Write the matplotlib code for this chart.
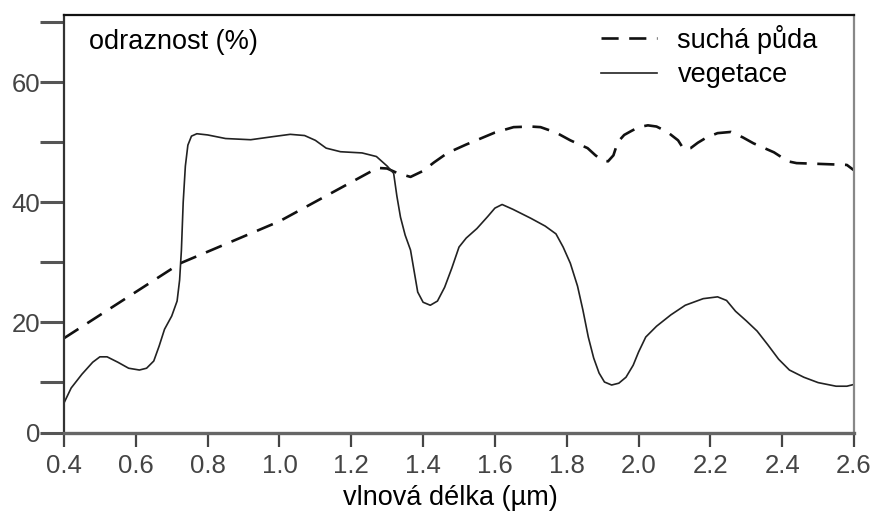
import matplotlib
matplotlib.use("Agg")
import matplotlib.pyplot as plt

# vegetace (solid curve)
veg_x = [0.40, 0.42, 0.45, 0.48, 0.50, 0.52, 0.55, 0.58, 0.61, 0.63, 0.65, 0.665,
         0.68, 0.70, 0.715, 0.722, 0.727, 0.732, 0.738, 0.745, 0.755, 0.77, 0.80,
         0.85, 0.92, 0.98, 1.03, 1.07, 1.10, 1.13, 1.17, 1.23, 1.27, 1.30, 1.318,
         1.327, 1.337, 1.35, 1.365, 1.375, 1.385, 1.40, 1.42, 1.44, 1.46, 1.48,
         1.50, 1.52, 1.55, 1.58, 1.60, 1.62, 1.65, 1.70, 1.74, 1.77, 1.79, 1.81,
         1.83, 1.845, 1.86, 1.875, 1.89, 1.905, 1.925, 1.945, 1.965, 1.985, 2.00,
         2.02, 2.05, 2.09, 2.13, 2.18, 2.22, 2.245, 2.27, 2.30, 2.33, 2.36, 2.39,
         2.42, 2.46, 2.50, 2.55, 2.58, 2.60]
veg_y = [6.5, 9.0, 11.3, 13.3, 14.2, 14.2, 13.3, 12.3, 12.0, 12.3, 13.5, 16.0,
         18.8, 21.0, 23.5, 27.0, 32.0, 40.0, 46.0, 49.5, 51.0, 51.4, 51.2,
         50.6, 50.4, 50.9, 51.3, 51.1, 50.3, 49.0, 48.4, 48.2, 47.6, 46.0, 44.8,
         41.0, 37.5, 34.5, 32.0, 28.5, 25.0, 23.3, 22.8, 23.5, 25.8, 29.0,
         32.5, 34.0, 35.6, 37.6, 39.0, 39.6, 38.8, 37.3, 36.0, 34.7, 32.5, 29.8,
         26.0, 22.0, 17.5, 14.0, 11.5, 10.0, 9.5, 9.8, 10.8, 12.8, 15.0,
         17.5, 19.3, 21.2, 22.8, 23.9, 24.2, 23.6, 21.8, 20.2, 18.5, 16.2, 13.8,
         12.0, 10.8, 9.9, 9.3, 9.3, 9.6]

# sucha puda (dashed curve)
soil_x = [0.40, 0.724, 1.00, 1.273, 1.30, 1.33, 1.365, 1.40, 1.43, 1.468, 1.52,
          1.56, 1.60, 1.652, 1.70, 1.727, 1.77, 1.81, 1.858, 1.88, 1.90, 1.915,
          1.93, 1.942, 1.96, 1.978, 2.00, 2.026, 2.05, 2.08, 2.11, 2.126, 2.145,
          2.165, 2.19, 2.22, 2.257, 2.29, 2.32, 2.377, 2.416, 2.44, 2.49, 2.58, 2.60]
soil_y = [17.3, 29.8, 36.8, 45.7, 45.6, 44.8, 44.2, 45.2, 46.6, 48.2, 49.6,
          50.6, 51.6, 52.5, 52.6, 52.5, 51.6, 50.3, 49.0, 47.8, 46.9, 46.8,
          47.8, 50.0, 51.2, 51.8, 52.5, 52.8, 52.6, 51.7, 50.3, 48.8, 49.0,
          49.9, 50.8, 51.5, 51.7, 50.8, 49.8, 48.3, 46.8, 46.5, 46.4, 46.2, 45.3]

x_ticks = [0.4, 0.6, 0.8, 1.0, 1.2, 1.4, 1.6, 1.8, 2.0, 2.2, 2.4, 2.6]
x_labels = ["0.4", "0.6", "0.8", "1.0", "1.2", "1.4", "1.6", "1.8", "2.0", "2.2", "2.4", "2.6"]
y_ticks = [1.5, 10, 20, 30, 40, 50, 60, 70]
y_labels = ["0", "", "20", "", "40", "", "60", ""]

plt.rcParams['font.family'] = ['Liberation Sans', 'DejaVu Sans']

fig = plt.figure(figsize=(8.8, 5.17), dpi=100)
ax = fig.add_axes([0.0727, 0.1625, 0.8978, 0.8085])

ax.plot(soil_x, soil_y, color='#111111', lw=1.9, linestyle=(0, (6.5, 4)),
        label='suchá půda')
ax.plot(veg_x, veg_y, color='#222222', lw=1.2, label='vegetace')

ax.set_xlim(0.4, 2.6)
ax.set_ylim(1.5, 71.2)
ax.set_xticks(x_ticks)
ax.set_xticklabels(x_labels)
ax.set_yticks(y_ticks)
ax.set_yticklabels(y_labels)

ax.tick_params(axis='y', direction='out', length=17, width=2.2, color='#555555',
               labelsize=18.5, labelcolor='#444444', pad=0)
ax.tick_params(axis='x', direction='out', length=10, width=1.6, color='#444444',
               labelsize=18.5, labelcolor='#444444', pad=5)

ax.spines['top'].set_color('#111111')
ax.spines['top'].set_linewidth(1.6)
ax.spines['left'].set_color('#333333')
ax.spines['left'].set_linewidth(1.6)
ax.spines['bottom'].set_color('#666666')
ax.spines['bottom'].set_linewidth(2.4)
ax.spines['right'].set_color('#888888')
ax.spines['right'].set_linewidth(1.6)

ax.text(0.032, 0.935, 'odraznost (%)', transform=ax.transAxes, fontsize=19.5,
        va='center', ha='left', color='black')

ax.set_xlabel('vlnová délka (µm)', fontsize=19.5, color='black')
ax.xaxis.set_label_coords(0.489, -0.125)

ax.legend(loc='upper right', bbox_to_anchor=(0.961, 0.99), frameon=False,
          fontsize=19.5, handlelength=2.07, handletextpad=0.74, labelspacing=0.32,
          borderpad=0.2, borderaxespad=0)

fig.savefig('out.png', dpi=100)
